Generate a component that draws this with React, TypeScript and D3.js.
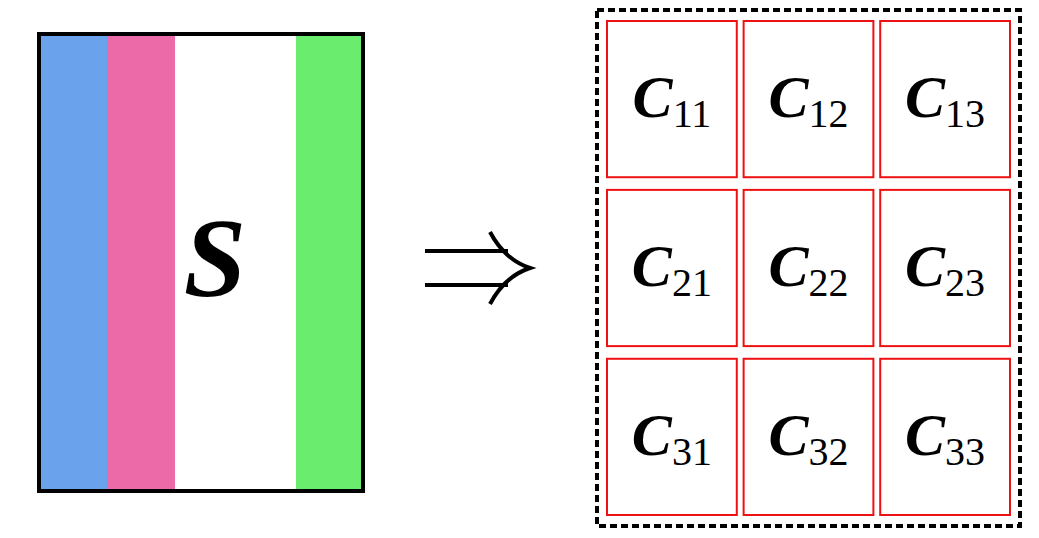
import { useEffect, useRef } from 'react';
import * as d3 from 'd3';

const stripes = ['blue', 'pink', 'white', 'green'];
const stripeWeights = [68, 68, 121, 67];
const stripeColors: Record<string, string> = {
  blue: '#6aa2ec',
  pink: '#ec6aa8',
  white: '#ffffff',
  green: '#6aec6f',
};
const rows = ['1', '2', '3'];
const cols = ['1', '2', '3'];

const App = () => {
  const svgRef = useRef<SVGSVGElement>(null);

  useEffect(() => {
    if (!svgRef.current) return;
    const svg = d3.select(svgRef.current);
    svg.selectAll('*').remove();

    // left matrix S
    const cum = [0, ...d3.cumsum(stripeWeights)];
    const sx = d3.scaleLinear().domain([0, cum[cum.length - 1]]).range([39, 363]);
    svg.append('g').selectAll('rect')
      .data(stripes)
      .join('rect')
      .attr('x', (_, i) => sx(cum[i]))
      .attr('y', 34)
      .attr('width', (_, i) => sx(cum[i + 1]) - sx(cum[i]) + 0.5)
      .attr('height', 457)
      .attr('fill', d => stripeColors[d]);
    svg.append('rect')
      .attr('x', 39).attr('y', 34).attr('width', 324).attr('height', 457)
      .attr('fill', 'none').attr('stroke', 'black').attr('stroke-width', 4);
    svg.append('text')
      .attr('x', 215).attr('y', 296)
      .attr('text-anchor', 'middle')
      .attr('font-family', 'Liberation Serif, serif')
      .attr('font-weight', 'bold').attr('font-style', 'italic')
      .attr('font-size', 112)
      .text('S');

    // arrow ⇒
    const p = d3.path();
    p.moveTo(425, 251); p.lineTo(508, 251);
    p.moveTo(425, 285); p.lineTo(508, 285);
    p.moveTo(490, 232); p.quadraticCurveTo(505, 260, 530, 268);
    p.quadraticCurveTo(505, 276, 490, 304);
    svg.append('path').attr('d', p.toString())
      .attr('fill', 'none').attr('stroke', 'black').attr('stroke-width', 4);

    // dashed outline
    svg.append('rect')
      .attr('x', 597).attr('y', 10).attr('width', 423).attr('height', 516)
      .attr('fill', 'none').attr('stroke', 'black').attr('stroke-width', 4)
      .attr('stroke-dasharray', '7 4');

    const cx = d3.scaleBand<string>().domain(cols).range([607, 1010]).paddingInner(0.05);
    const cy = d3.scaleBand<string>().domain(rows).range([21, 515]).paddingInner(0.075);
    const cells = rows.flatMap(r => cols.map(c => ({ r, c })));
    const g = svg.append('g').selectAll('g')
      .data(cells)
      .join('g')
      .attr('transform', d => `translate(${cx(d.c)},${cy(d.r)})`);
    g.append('rect')
      .attr('width', cx.bandwidth()).attr('height', cy.bandwidth())
      .attr('fill', 'none').attr('stroke', '#ee1111').attr('stroke-width', 2);
    const t = g.append('text')
      .attr('x', cx.bandwidth() / 2).attr('y', cy.bandwidth() / 2 + 18)
      .attr('text-anchor', 'middle')
      .attr('font-family', 'Liberation Serif, serif');
    t.append('tspan')
      .attr('font-weight', 'bold').attr('font-style', 'italic').attr('font-size', 60)
      .text('C');
    t.append('tspan')
      .attr('font-size', 40).attr('dy', 10)
      .text(d => d.r + d.c);
  }, []);

  return <svg ref={svgRef} width={1039} height={538} style={{ position: 'absolute', left: 0, top: 0 }} />;
};

export default App;
